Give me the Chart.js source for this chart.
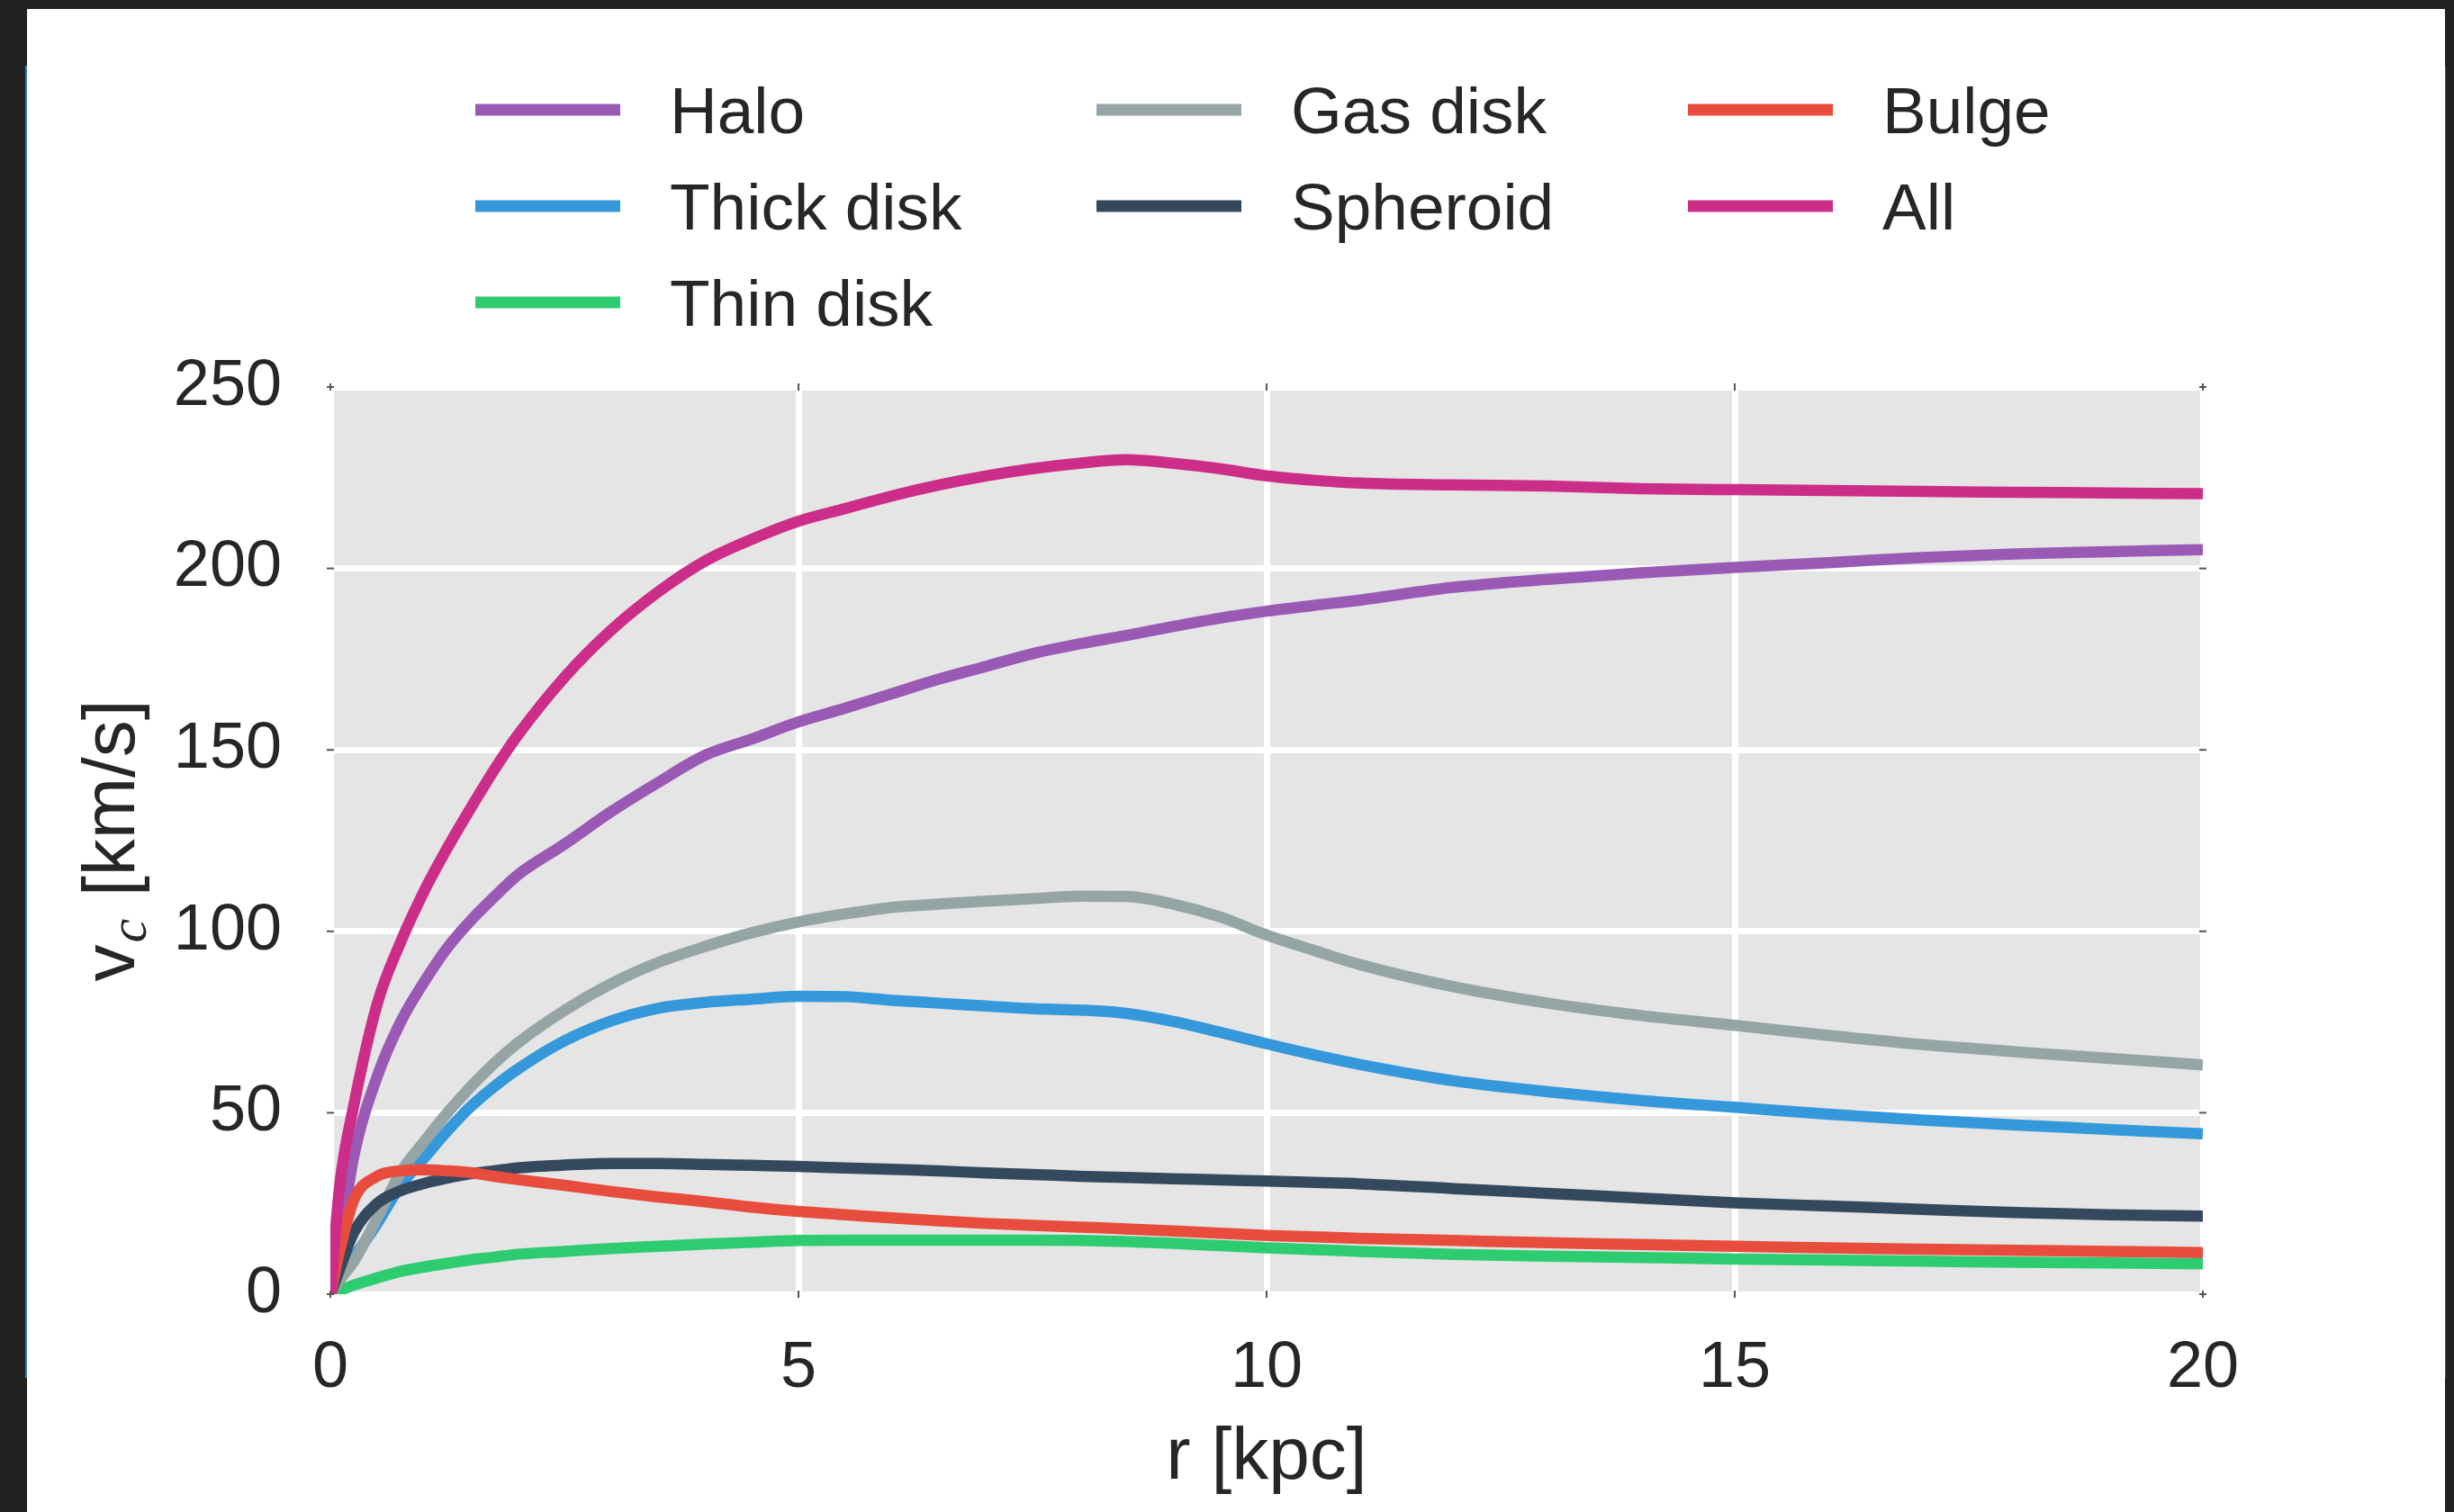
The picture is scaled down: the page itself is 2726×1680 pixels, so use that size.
<!DOCTYPE html>
<html><head><meta charset="utf-8">
<script src="https://cdn.jsdelivr.net/npm/chart.js@4.4.0/dist/chart.umd.min.js"></script>
<style>
html,body{margin:0;padding:0;background:#222222;width:2726px;height:1680px;overflow:hidden}
#sheet{position:absolute;left:30px;top:10px;width:2686px;height:1670px;background:#ffffff}
.edge{position:absolute;top:73px;height:1458px}
#edgeL{left:28px;width:2px;background:#2a80b9}
#edgeR{left:2716px;width:1px;background:#1d5f8e}
canvas{position:absolute;left:0;top:0}
</style></head><body>
<div id="sheet"></div><div class="edge" id="edgeL"></div><div class="edge" id="edgeR"></div>
<canvas id="chart" width="2726" height="1680"></canvas>
<script>
// ---- data (r in kpc, v_c in km/s) ----
const radius   = [0, 0.1, 0.25, 0.5, 0.75, 1, 1.25, 1.5, 1.75, 2, 2.5, 3, 3.5, 4, 4.5, 5, 5.5, 6, 6.5, 7, 7.5, 8, 8.5, 9, 9.5, 10, 10.5, 11, 12, 13, 14, 15, 16, 17, 18, 19, 20];
const halo     = [0, 14, 38, 60, 75, 86, 95.5, 103, 109.5, 115.5, 124, 133, 141, 148.5, 153, 157.7, 161.5, 165.5, 169.5, 173, 176.5, 179.2, 181.5, 184, 186.3, 188.2, 189.8, 191.3, 194.8, 197, 198.8, 200.3, 201.6, 203, 204, 204.6, 205.2];
const thickDisk= [0, 4, 10, 19.5, 30, 37.5, 45, 51.7, 57.2, 62, 69.8, 75.3, 78.8, 80.4, 81.3, 82.1, 82, 81, 80.2, 79.4, 78.7, 78.3, 77.4, 75.2, 72.2, 69, 66, 63.3, 58.8, 55.8, 53.4, 51.5, 49.6, 48, 46.6, 45.4, 44.2];
const thinDisk = [0, 1, 2.5, 4.5, 6.3, 7.5, 8.5, 9.5, 10.2, 11, 11.8, 12.6, 13.2, 13.8, 14.3, 14.8, 14.9, 14.9, 14.9, 14.9, 14.9, 14.8, 14.5, 14, 13.4, 12.8, 12.3, 11.8, 11, 10.5, 10.1, 9.7, 9.4, 9.1, 8.8, 8.6, 8.4];
const gasDisk  = [0, 4, 9, 21, 33.5, 42, 50, 57.2, 63.6, 69.2, 78.2, 85.6, 91.4, 95.8, 99.6, 102.6, 104.8, 106.6, 107.5, 108.3, 109, 109.7, 109.6, 107.5, 104, 99, 94.8, 90.8, 84.7, 80.2, 76.8, 74.1, 71.3, 68.8, 66.8, 65, 63.2];
const spheroid = [0, 7, 17, 25, 28.5, 30.5, 32, 33.2, 34, 34.8, 35.6, 36, 36, 35.8, 35.5, 35.2, 34.8, 34.4, 34, 33.4, 33, 32.5, 32.2, 31.8, 31.5, 31.2, 30.8, 30.4, 29.1, 27.8, 26.5, 25.2, 24.3, 23.4, 22.5, 21.9, 21.5];
const bulge    = [0, 12, 26, 32.5, 34, 34.3, 34, 33.5, 32.5, 31.6, 30, 28.3, 26.8, 25.5, 24, 22.8, 21.9, 21, 20.2, 19.5, 19, 18.5, 18, 17.4, 16.8, 16.2, 15.8, 15.4, 14.8, 14.2, 13.7, 13.2, 12.8, 12.4, 12.1, 11.8, 11.5];
const allComp  = [0, 30, 52, 80, 97, 111, 123, 134, 144.5, 154, 170, 183, 193.5, 202, 208, 213, 216.5, 220, 223, 225.5, 227.5, 229, 230, 229, 227.5, 225.5, 224.3, 223.5, 223, 222.7, 222, 221.7, 221.5, 221.2, 221, 220.8, 220.6];

const seriesNames  = ['Halo', 'Thick disk', 'Thin disk', 'Gas disk', 'Spheroid', 'Bulge', 'All'];
const seriesValues = [halo, thickDisk, thinDisk, gasDisk, spheroid, bulge, allComp];
const seriesColors = ['#9b59b6', '#3498db', '#2ecc71', '#95a5a6', '#34495e', '#e74c3c', '#cc2d89'];
const xTicks = [0, 5, 10, 15, 20];
const yTicks = [0, 50, 100, 150, 200, 250];

const FONT = '"Liberation Sans", Arial, sans-serif';
const TEXT = '#262626';
const LW = 12.5;

const datasets = seriesNames.map((name, i) => ({
  label: name,
  data: radius.map((r, k) => ({x: r, y: seriesValues[i][k]})),
  borderColor: seriesColors[i],
  backgroundColor: seriesColors[i],
  borderWidth: LW,
  pointRadius: 0,
  pointHoverRadius: 0,
  fill: false,
  cubicInterpolationMode: 'monotone',
  borderJoinStyle: 'round',
  order: seriesNames.length - 1 - i
}));

// legend slots [column, row] (matplotlib ncol=3 fills column-wise: 3,2,2)
const legendSlots = [[0,0],[0,1],[0,2],[1,0],[1,1],[2,0],[2,1]];

const decor = {
  id: 'decor',
  beforeDraw(chart) {
    const {ctx, chartArea: a} = chart;
    ctx.save();
    ctx.fillStyle = '#e5e5e5';
    ctx.fillRect(a.left, a.top, a.right - a.left, a.bottom - a.top);
    ctx.restore();
  },
  afterDraw(chart) {
    const {ctx, chartArea: a, scales} = chart;
    ctx.save();
    ctx.strokeStyle = '#555555';
    ctx.lineWidth = 2;
    xTicks.forEach(t => {
      const x = scales.x.getPixelForValue(t);
      ctx.beginPath(); ctx.moveTo(x, a.bottom - 4); ctx.lineTo(x, a.bottom + 4); ctx.stroke();
      ctx.beginPath(); ctx.moveTo(x, a.top - 4); ctx.lineTo(x, a.top + 4); ctx.stroke();
    });
    yTicks.forEach(t => {
      const y = scales.y.getPixelForValue(t);
      ctx.beginPath(); ctx.moveTo(a.left - 4, y); ctx.lineTo(a.left + 4, y); ctx.stroke();
      ctx.beginPath(); ctx.moveTo(a.right - 4, y); ctx.lineTo(a.right + 4, y); ctx.stroke();
    });
    // legend
    const colX = [528, 1218, 1875];
    const rowY = [122, 229, 336];
    const lineLen = 161, textGap = 216;
    chart.data.datasets.forEach((ds, i) => {
      const [col, row] = legendSlots[i];
      const x0 = colX[col], y0 = rowY[row];
      ctx.strokeStyle = ds.borderColor;
      ctx.lineWidth = 13;
      ctx.lineCap = 'butt';
      ctx.beginPath(); ctx.moveTo(x0, y0); ctx.lineTo(x0 + lineLen, y0); ctx.stroke();
      ctx.fillStyle = TEXT;
      ctx.font = '73px ' + FONT;
      ctx.textBaseline = 'alphabetic';
      ctx.textAlign = 'left';
      ctx.fillText(ds.label, x0 + textGap, y0 + 26);
    });
    // y axis title v_c [km/s]
    ctx.translate(127, 934);
    ctx.rotate(-Math.PI / 2);
    const fMain = '82px ' + FONT, fSub = 'italic 60px "Liberation Serif", serif';
    ctx.font = fMain; const wv = ctx.measureText('v').width; const wr = ctx.measureText(' [km/s]').width;
    ctx.font = fSub; const wc = ctx.measureText('c').width;
    let x = -(wv + wc + 4 + wr) / 2;
    const base = 22;
    ctx.fillStyle = TEXT;
    ctx.textAlign = 'left';
    ctx.textBaseline = 'alphabetic';
    ctx.font = fMain; ctx.fillText('v', x, base); x += wv + 2;
    ctx.font = fSub; ctx.fillText('c', x, base + 13); x += wc + 2;
    ctx.font = fMain; ctx.fillText(' [km/s]', x, base);
    ctx.restore();
  }
};

new Chart(document.getElementById('chart'), {
  type: 'line',
  data: {datasets},
  plugins: [decor],
  options: {
    responsive: false,
    animation: false,
    devicePixelRatio: 1,
    events: [],
    layout: {padding: {left: 0, top: 430, right: 279, bottom: 0}},
    plugins: {legend: {display: false}, tooltip: {enabled: false}, title: {display: false}},
    scales: {
      x: {
        type: 'linear', min: 0, max: 20,
        afterBuildTicks: s => { s.ticks = xTicks.map(v => ({value: v})); },
        afterFit: s => { s.height = 242; },
        grid: {color: '#ffffff', lineWidth: 7, drawTicks: false},
        border: {display: false},
        ticks: {color: TEXT, font: {family: FONT, size: 72}, padding: 40, maxRotation: 0},
        title: {display: true, text: 'r [kpc]', color: TEXT, font: {family: FONT, size: 82}, padding: {top: 0, bottom: 10}}
      },
      y: {
        type: 'linear', min: 0, max: 250,
        afterBuildTicks: s => { s.ticks = yTicks.map(v => ({value: v})); },
        afterFit: s => { s.width = 367; },
        grid: {color: '#ffffff', lineWidth: 7, drawTicks: false},
        border: {display: false},
        ticks: {color: TEXT, font: {family: FONT, size: 72}, padding: 54},
        title: {display: false}
      }
    }
  }
});
</script>
</body></html>
